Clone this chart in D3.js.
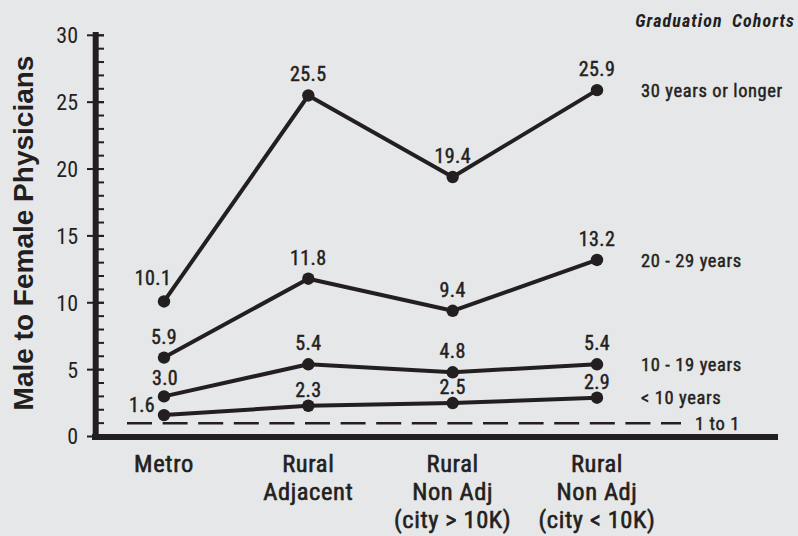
<!DOCTYPE html>
<html>
<head>
<meta charset="utf-8">
<script src="https://cdn.jsdelivr.net/npm/d3@7"></script>
<style>
  body { margin: 0; background: #e6e7e8; }
  svg { display: block; }
  .narrow { font-family: "Liberation Sans Narrow", "Arial Narrow", "Roboto Condensed", sans-serif; }
  .medium { stroke: #231f20; stroke-width: 0.45px; }
</style>
</head>
<body>
<div id="chart"></div>
<script>
// Datos del grafico
var categories = [
  ["Metro"],
  ["Rural", "Adjacent"],
  ["Rural", "Non Adj", "(city > 10K)"],
  ["Rural", "Non Adj", "(city < 10K)"]
];
var cohorts = ["30 years or longer", "20 - 29 years", "10 - 19 years", "< 10 years"];
var values30 = [10.1, 25.5, 19.4, 25.9];
var values20 = [5.9, 11.8, 9.4, 13.2];
var values10 = [3.0, 5.4, 4.8, 5.4];
var valuesLt10 = [1.6, 2.3, 2.5, 2.9];
var parity = 1;
var yTicks = [0, 5, 10, 15, 20, 25, 30];

var series = [values30, values20, values10, valuesLt10];

const width = 798, height = 536, ink = "#231f20";

const svg = d3.select("#chart").append("svg")
  .attr("width", width)
  .attr("height", height);

svg.append("rect").attr("width", width).attr("height", height).attr("fill", "#e6e7e8");

// Escalas
var x = d3.scalePoint().domain(d3.range(categories.length)).range([164, 597]);
var y = d3.scaleLinear().domain([0, 30]).range([436.5, 35.3]);

// Eje Y: linea gruesa, ticks menores a la derecha y mayores cruzando
const axisX = 95.7;
svg.append("g")
  .selectAll("line.minor")
  .data(d3.range(1, 31))
  .enter()
  .append("line")
  .attr("x1", axisX).attr("x2", 104)
  .attr("y1", d => y(d)).attr("y2", d => y(d))
  .style("stroke", ink).style("stroke-width", 2);

svg.append("g")
  .selectAll("line.major")
  .data(yTicks)
  .enter()
  .append("line")
  .attr("x1", 87).attr("x2", 104)
  .attr("y1", d => y(d)).attr("y2", d => y(d))
  .style("stroke", ink).style("stroke-width", 2);

svg.append("line")
  .attr("x1", axisX).attr("x2", axisX)
  .attr("y1", 32).attr("y2", 440)
  .style("stroke", ink).style("stroke-width", 6);

svg.append("g")
  .selectAll("text")
  .data(yTicks)
  .enter()
  .append("text")
  .attr("class", "narrow")
  .attr("x", 78)
  .attr("y", d => y(d))
  .attr("dy", "0.36em")
  .attr("text-anchor", "end")
  .style("font-size", "22px")
  .style("fill", ink)
  .text(d => d);

// Eje X
svg.append("line")
  .attr("x1", 92).attr("x2", 778)
  .attr("y1", 437).attr("y2", 437)
  .style("stroke", ink).style("stroke-width", 6);

// Linea 1 a 1
svg.append("line")
  .attr("x1", 127).attr("x2", 681)
  .attr("y1", y(parity)).attr("y2", y(parity))
  .style("stroke", ink).style("stroke-width", 2.5)
  .style("stroke-dasharray", "25,10.6");

svg.append("text")
  .attr("class", "narrow medium")
  .attr("x", 695)
  .attr("y", y(parity))
  .attr("dy", "0.36em")
  .style("font-size", "18.5px")
  .style("letter-spacing", "0.6px")
  .style("fill", ink)
  .text("1 to 1");

// Lineas de las cohortes
var line = d3.line().x((d, i) => x(i)).y(d => y(d));

svg.append("g")
  .selectAll("path")
  .data(series)
  .enter()
  .append("path")
  .attr("d", line)
  .style("fill", "none")
  .style("stroke", ink)
  .style("stroke-width", 4)
  .style("stroke-linejoin", "round");

// desplazamiento de las etiquetas de valor [dx, dy] segun serie y categoria
function labelOffset(s, i) {
  if (s === 0 && i === 0) return [-11, -16];
  if (s === 3 && i === 0) return [-22, -3];
  if (s === 3) return [0, -9];
  if (s === 2 && i === 0) return [1, -11];
  return [0, -14];
}

series.forEach(function (vals, s) {
  var g = svg.append("g");
  g.selectAll("circle")
    .data(vals)
    .enter()
    .append("circle")
    .attr("cx", (d, i) => x(i))
    .attr("cy", d => y(d))
    .attr("r", 6.2)
    .style("fill", ink);

  g.selectAll("text")
    .data(vals)
    .enter()
    .append("text")
    .attr("class", "narrow medium")
    .attr("x", (d, i) => x(i) + labelOffset(s, i)[0])
    .attr("y", (d, i) => y(d) + labelOffset(s, i)[1])
    .attr("text-anchor", "middle")
    .style("font-size", "20px")
    .style("letter-spacing", "0.4px")
    .style("fill", ink)
    .text(d => d.toFixed(1));

  // etiqueta de la cohorte a la derecha
  svg.append("text")
    .attr("class", "narrow medium")
    .attr("x", 641)
    .attr("y", y(vals[vals.length - 1]))
    .attr("dy", "0.36em")
    .style("font-size", "18.5px")
    .style("letter-spacing", "0.6px")
    .style("fill", ink)
    .text(cohorts[s]);
});

// Etiquetas de categorias
var cat = svg.append("g")
  .selectAll("text")
  .data(categories)
  .enter()
  .append("text")
  .attr("class", "narrow medium")
  .attr("text-anchor", "middle")
  .attr("y", 471.7)
  .style("font-size", "24.5px")
  .style("letter-spacing", "0.6px")
  .style("stroke-width", "0.6px")
  .style("fill", ink);

cat.selectAll("tspan")
  .data((d, i) => d.map(t => ({ t: t, i: i })))
  .enter()
  .append("tspan")
  .attr("x", d => x(d.i))
  .attr("dy", (d, j) => j === 0 ? 0 : 28.3)
  .text(d => d.t);

// Titulo del eje Y
svg.append("text")
  .attr("transform", "translate(33,233) rotate(-90)")
  .attr("text-anchor", "middle")
  .style("font-family", "'Liberation Sans', Arial, sans-serif")
  .style("font-size", "28px")
  .style("font-weight", "bold")
  .style("fill", ink)
  .text("Male to Female Physicians");

// Titulo de la leyenda
svg.append("text")
  .attr("class", "narrow")
  .attr("x", 795)
  .attr("y", 26.5)
  .attr("text-anchor", "end")
  .style("font-size", "18px")
  .style("font-weight", "bold")
  .style("letter-spacing", "1.1px")
  .style("word-spacing", "4px")
  .style("font-style", "italic")
  .style("fill", ink)
  .text("Graduation Cohorts");
</script>
</body>
</html>
